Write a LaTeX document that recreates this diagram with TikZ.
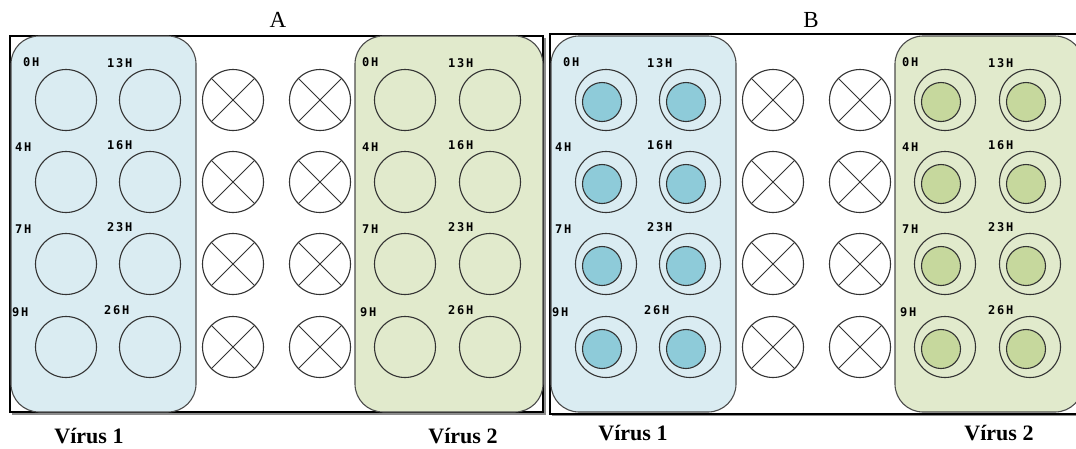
\documentclass[tikz,border=0pt]{standalone}
\usepackage{fontspec}
\setmainfont{Liberation Serif}
\newfontfamily\hourfont[LetterSpace=15]{DejaVu Sans Mono}
\usetikzlibrary{positioning}

\definecolor{blueback}{HTML}{DAECF2}
\definecolor{greenback}{HTML}{E1EACC}
\definecolor{bluedot}{HTML}{8ECBD9}
\definecolor{greendot}{HTML}{C6D89D}
\definecolor{wellline}{HTML}{333333}

\tikzset{
  well/.style={circle, draw=wellline, line width=1.1pt, minimum size=61pt, inner sep=0pt},
  welldot/.style={circle, draw=wellline, line width=1.1pt, minimum size=39pt, inner sep=0pt},
  hour/.style={anchor=base west, inner sep=0pt, font=\hourfont\bfseries\fontsize{12}{12}\selectfont},
  region/.style={draw=black!70, line width=1.1pt, rounded corners=28pt},
  virus/.style={anchor=base, inner sep=0pt, font=\bfseries\fontsize{22}{24}\selectfont},
}

\begin{document}
\begin{tikzpicture}[x=1pt, y=-1pt]
  \useasboundingbox (0,0) rectangle (1076,448);
  \clip (0,0) rectangle (1076,448);

  % Plate frames
  \fill[black!45] (12,38) rectangle (546,415);
  \draw[fill=white, line width=1.1pt] (10,36) rectangle (543,412);
  \fill[black!45] (552,36) rectangle (1090,416);
  \draw[fill=white, line width=1.1pt] (550,34) rectangle (1088,414);

  % Titles
  \node[font=\fontsize{23}{24}\selectfont] (titleA) at (278,20) {A};
  \node[font=\fontsize{23}{24}\selectfont] (titleB) at (811,20) {B};

  % Panels
  \foreach \pan/\dx/\filled in {A/0/0, B/540/1} {
    \begin{scope}[xshift=\dx]
      % Virus regions
      \draw[region, fill=blueback] (11,36) rectangle (196,412);
      \draw[region, fill=greenback] (355,36) rectangle (543,412);

      % Wells
      \foreach \r/\y/\la/\lb/\xa/\xb/\xc/\dy in
        {1/100/0H/13H/23/107/362/34, 2/182/4H/16H/15/107/362/31,
         3/264/7H/23H/15/107/362/31, 4/347/9H/26H/12/104/360/31} {
        % virus 1
        \node[well] (\pan-va\r) at (66,\y) {};
        \node[well] (\pan-vb\r) at (150,\y) {};
        \node[hour] (\pan-la\r) at (\xa,\y-\dy) {\la};
        \node[hour] (\pan-lb\r) at (\xb,\y-33) {\lb};
        % controls
        \foreach \c/\x in {a/233, b/320} {
          \node[well] (\pan-x\c\r) at (\x,\y) {};
          \draw[wellline, line width=1pt] (\pan-x\c\r.45) -- (\pan-x\c\r.225);
          \draw[wellline, line width=1pt] (\pan-x\c\r.135) -- (\pan-x\c\r.315);
        }
        % virus 2
        \node[well] (\pan-wa\r) at (405,\y) {};
        \node[well] (\pan-wb\r) at (490,\y) {};
        \node[hour] (\pan-ma\r) at (\xc,\y-\dy) {\la};
        \node[hour] (\pan-mb\r) at (448,\y-33) {\lb};
        % plaques
        \ifnum\filled=1
          \node[welldot, fill=bluedot] (\pan-da\r) at (62,\y+2) {};
          \node[welldot, fill=bluedot] (\pan-db\r) at (146,\y+2) {};
          \node[welldot, fill=greendot] (\pan-ea\r) at (401,\y+2) {};
          \node[welldot, fill=greendot] (\pan-eb\r) at (486,\y+2) {};
        \fi
      }
    \end{scope}
  }

  % Virus names
  \node[virus] (nameA1) at (89,443) {Vírus 1};
  \node[virus] (nameA2) at (463,443) {Vírus 2};
  \node[virus] (nameB1) at (633,440) {Vírus 1};
  \node[virus] (nameB2) at (999,440) {Vírus 2};
\end{tikzpicture}
\end{document}
